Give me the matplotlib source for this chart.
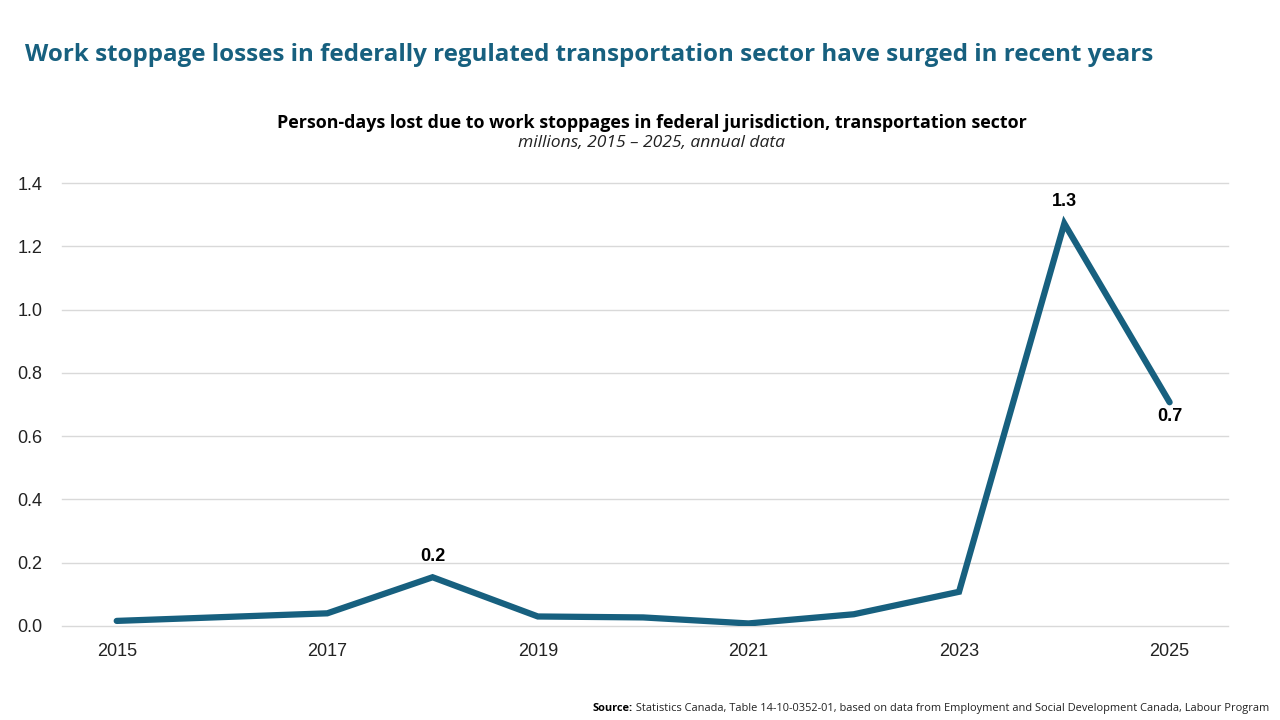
import matplotlib.pyplot as plt

# data (millions of person-days lost)
years = [2015, 2016, 2017, 2018, 2019, 2020, 2021, 2022, 2023, 2024, 2025]
days_lost = [0.016, 0.028, 0.040, 0.154, 0.030, 0.027, 0.008, 0.037, 0.108, 1.272, 0.707]
label_years = [2018, 2024, 2025]
label_text = ['0.2', '1.3', '0.7']
label_offsets = [15, 16, -10]  # points above/below the line

blue = '#17607f'
plt.rcParams['font.family'] = ['Open Sans', 'DejaVu Sans']
tick_font = 'Liberation Sans'

fig = plt.figure(figsize=(12.8, 7.2), dpi=100)
ax = fig.add_axes([0.0484, 0.1306, 0.9106, 0.6152])

ax.plot(years, days_lost, color=blue, linewidth=4.5, solid_capstyle='round', solid_joinstyle='miter', zorder=3)

for yr, txt, off in zip(label_years, label_text, label_offsets):
    val = days_lost[years.index(yr)]
    ax.annotate(txt, (yr, val), xytext=(0, off), textcoords='offset points',
                ha='center', va='center', fontsize=13, fontweight='bold', color='black',
                family=tick_font)

ax.set_xlim(2014.48, 2025.55)
ax.set_ylim(0, 1.4)
ax.set_xticks([2015, 2017, 2019, 2021, 2023, 2025])
ax.set_yticks([0, 0.2, 0.4, 0.6, 0.8, 1.0, 1.2, 1.4])
ax.set_yticklabels([f'{v:.1f}' for v in ax.get_yticks()])
ax.tick_params(axis='both', length=0, labelsize=13, colors='#222222')
ax.tick_params(axis='x', pad=12)
ax.tick_params(axis='y', pad=14)
for lab in ax.get_xticklabels() + ax.get_yticklabels():
    lab.set_family(tick_font)
ax.grid(axis='y', color='#d9d9d9', linewidth=1)
for gl in ax.get_ygridlines():
    gl.set_clip_on(False)
ax.set_axisbelow(True)
for s in ax.spines.values():
    s.set_visible(False)

fig.text(0.0195, 0.923, 'Work stoppage losses in federally regulated transportation sector have surged in recent years',
         fontsize=17.4, fontweight='bold', color=blue, va='center', ha='left')
fig.text(0.509, 0.829, 'Person-days lost due to work stoppages in federal jurisdiction, transportation sector',
         fontsize=12.9, fontweight='bold', color='black', ha='center', va='center')
fig.text(0.509, 0.801, 'millions, 2015 \u2013 2025, annual data',
         fontsize=12.6, style='italic', color='#222222', ha='center', va='center')

# source line: bold "Source:" followed by plain text
src = fig.text(0.463, 0.016, 'Source:', fontsize=7.9, fontweight='bold', color='black', ha='left', va='center')
ax.annotate(' Statistics Canada, Table 14-10-0352-01, based on data from Employment and Social Development Canada, Labour Program',
            xy=(1, 0.5), xycoords=src, ha='left', va='center', fontsize=7.9, color='#222222',
            annotation_clip=False)

fig.savefig('out.png', dpi=100)
